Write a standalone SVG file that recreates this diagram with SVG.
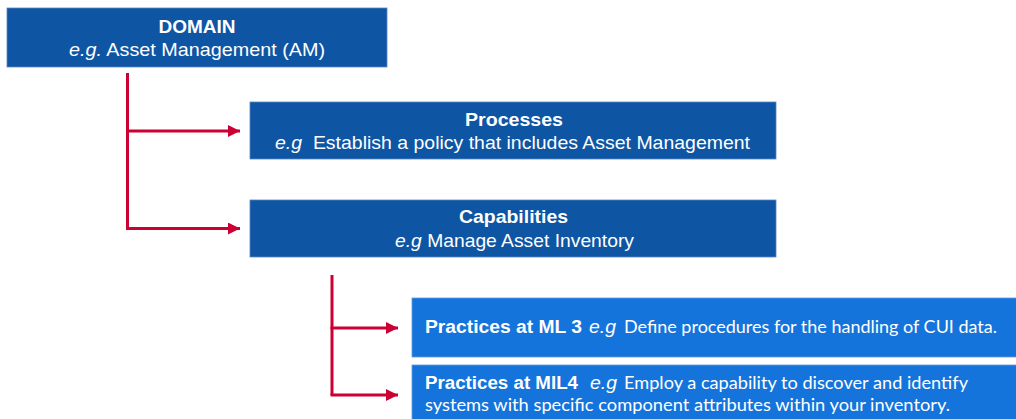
<svg xmlns="http://www.w3.org/2000/svg" width="1016" height="419" viewBox="0 0 1016 419">
<defs>
<style>
.dark{fill:#0E55A3;stroke:#5b86c0;stroke-width:0.8}
.bright{fill:#1574DB;stroke:#5e9be3;stroke-width:0.8}
.t{font-family:"Liberation Sans",Arial,sans-serif;fill:#ffffff}
.b{font-weight:bold}
.i{font-style:italic}
.c{font-family:Lato,"Liberation Sans",sans-serif;fill:#ffffff}
.conn{fill:none;stroke:#CC0033;stroke-width:3}
</style>
<marker id="ah" viewBox="0 0 10 10" refX="10" refY="5" markerWidth="4" markerHeight="4" markerUnits="strokeWidth" orient="auto">
<path d="M0,0 L10,5 L0,10 z" fill="#CC0033"/>
</marker>
</defs>
<rect width="1016" height="419" fill="#ffffff"/>
<g id="connectors">
<path class="conn" d="M127.5,73 V228.5" />
<path class="conn" d="M126,131 H240" marker-end="url(#ah)"/>
<path class="conn" d="M126,228.5 H240" marker-end="url(#ah)"/>
<path class="conn" d="M332,275 V395" />
<path class="conn" d="M330.5,328 H398" marker-end="url(#ah)"/>
<path class="conn" d="M330.5,395 H398" marker-end="url(#ah)"/>
</g>
<g id="domain">
<rect class="dark" x="7" y="8" width="380" height="59"/>
<text class="t b" x="197" y="33" font-size="19" text-anchor="middle" textLength="77" lengthAdjust="spacingAndGlyphs">DOMAIN</text>
<text class="t" x="69" y="56" font-size="19" textLength="256" lengthAdjust="spacingAndGlyphs"><tspan class="i">e.g.</tspan> Asset Management (AM)</text>
</g>
<g id="processes">
<rect class="dark" x="250" y="102" width="526" height="57"/>
<text class="t b" x="514" y="126" font-size="19" text-anchor="middle" textLength="98" lengthAdjust="spacingAndGlyphs">Processes</text>
<text class="t" x="275" y="149" font-size="19" textLength="475" lengthAdjust="spacingAndGlyphs" xml:space="preserve"><tspan class="i">e.g</tspan>  Establish a policy that includes Asset Management</text>
</g>
<g id="capabilities">
<rect class="dark" x="250" y="200" width="526" height="57"/>
<text class="t b" x="513.5" y="223" font-size="19" text-anchor="middle" textLength="109" lengthAdjust="spacingAndGlyphs">Capabilities</text>
<text class="t" x="395" y="247" font-size="19" textLength="239" lengthAdjust="spacingAndGlyphs"><tspan class="i">e.g</tspan> Manage Asset Inventory</text>
</g>
<g id="practices-ml3">
<rect class="bright" x="412" y="298" width="606" height="59"/>
<text class="t b" x="425" y="333" font-size="18" textLength="157" lengthAdjust="spacingAndGlyphs">Practices at ML 3</text>
<text class="t i" x="589" y="333" font-size="18" textLength="27" lengthAdjust="spacingAndGlyphs">e.g</text>
<text class="c" x="624" y="333" font-size="18" textLength="373" lengthAdjust="spacingAndGlyphs">Define procedures for the handling of CUI data.</text>
</g>
<g id="practices-mil4">
<rect class="bright" x="412" y="365" width="606" height="60"/>
<text class="t b" x="425" y="389" font-size="18" textLength="153" lengthAdjust="spacingAndGlyphs">Practices at MIL4</text>
<text class="t i" x="590" y="389" font-size="18" textLength="27" lengthAdjust="spacingAndGlyphs">e.g</text>
<text class="c" x="624" y="389" font-size="18" textLength="344" lengthAdjust="spacingAndGlyphs">Employ a capability to discover and identify</text>
<text class="c" x="425" y="411" font-size="18" textLength="525" lengthAdjust="spacingAndGlyphs">systems with specific component attributes within your inventory.</text>
</g>
</svg>
